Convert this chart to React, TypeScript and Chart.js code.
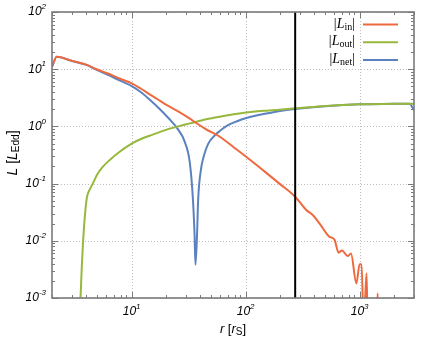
import React, { useEffect, useRef } from "react";
import { Chart, registerables } from "chart.js";
Chart.register(...registerables);

// |L_in|
const rIn = [2.0, 2.2, 3, 4, 4.94, 6.2, 7.9, 10, 12, 14.5, 17, 20, 26, 32.4, 36, 45, 59.3, 80, 105, 150, 198, 272, 340, 388, 444, 542, 601, 655, 700, 785, 840, 936, 1000, 1040, 1085, 1150, 1180, 1400, 1440, 1460];
const lIn = [11, 16.5, 14.0, 12.0, 10.0, 8.4, 6.8, 5.66, 4.6, 3.6, 2.95, 2.4, 1.8, 1.37, 1.18, 0.89, 0.66, 0.42, 0.277, 0.157, 0.1, 0.059, 0.0346, 0.0282, 0.0202, 0.0118, 0.0105, 0.0062, 0.0068, 0.0054, 0.006, 0.0018, 0.0039, 0.0039, 0.0003, 0.0027, 0.0003, 0.0003, 0.0012, 0.0003];

// |L_out|
const rOut = [3.45, 3.56, 3.75, 3.93, 4.06, 4.3, 4.56, 5.0, 5.5, 6.5, 7.7, 10, 12.5, 15.1, 20, 26, 32.4, 45, 59.3, 85, 116, 160, 198, 259, 500, 1000, 2000, 2737, 3000];
const lOut = [0.0001, 0.001, 0.01, 0.035, 0.059, 0.08, 0.1, 0.145, 0.19, 0.265, 0.35, 0.5, 0.62, 0.71, 0.87, 1.01, 1.13, 1.33, 1.48, 1.67, 1.81, 1.9, 1.96, 2.05, 2.28, 2.43, 2.48, 2.5, 2.5];

// |L_net|
const rNet = [2.0, 2.2, 3, 4, 4.94, 6.2, 7.9, 10, 12, 14.5, 17.7, 21, 25.6, 29, 32.4, 34.5, 35.6, 36.3, 37.5, 38.3, 40.9, 42.3, 46.8, 55, 59.3, 70, 83, 105, 133, 162, 200, 259, 500, 1000, 2000, 2737, 3000];
const lNet = [11, 16.5, 13.9, 11.9, 9.7, 8.0, 6.3, 5.08, 4.0, 2.9, 2.0, 1.4, 0.88, 0.56, 0.23, 0.052, 0.0134, 0.0038, 0.0134, 0.052, 0.197, 0.27, 0.49, 0.73, 0.83, 1.05, 1.22, 1.43, 1.6, 1.72, 1.86, 2.0, 2.25, 2.43, 2.48, 2.5, 1.9];

const seriesSubs = ["in", "out", "net"];
const seriesColors = ["#ee6a3e", "#97b83c", "#5b82be"];
const xTickExps = [1, 2, 3];
const yTickExps = [-3, -2, -1, 0, 1, 2];
const xMin = 2, xMax = 3000, yMin = 1e-3, yMax = 1e2;
const rMarker = 272;

type Part = { t: string; font: string; dy?: number };

function drawParts(ctx: CanvasRenderingContext2D, parts: Part[], x: number, y: number, align: "left" | "right" | "center") {
  let total = 0;
  for (const p of parts) { ctx.font = p.font; total += ctx.measureText(p.t).width; }
  let cx = align === "right" ? x - total : align === "center" ? x - total / 2 : x;
  ctx.textAlign = "left";
  for (const p of parts) {
    ctx.font = p.font;
    ctx.fillText(p.t, cx, y + (p.dy || 0));
    cx += ctx.measureText(p.t).width;
  }
}

const SANS = "'Liberation Sans', Arial, sans-serif";
const SERIF = "'Liberation Serif', 'Times New Roman', serif";

const deco = {
  id: "deco",
  beforeDatasetsDraw(chart: any) {
    const { ctx, chartArea: a, scales } = chart;
    const x = scales.x, y = scales.y;
    ctx.save();
    ctx.strokeStyle = "#bdbdbd";
    ctx.lineWidth = 1;
    ctx.setLineDash([1, 2]);
    for (const e of xTickExps) {
      const px = Math.round(x.getPixelForValue(Math.pow(10, e))) + 0.5;
      ctx.beginPath(); ctx.moveTo(px, a.top); ctx.lineTo(px, a.bottom); ctx.stroke();
    }
    for (const e of yTickExps) {
      const py = Math.round(y.getPixelForValue(Math.pow(10, e))) + 0.5;
      ctx.beginPath(); ctx.moveTo(a.left, py); ctx.lineTo(a.right, py); ctx.stroke();
    }
    ctx.restore();
  },
  afterDatasetsDraw(chart: any) {
    const { ctx, chartArea: a, scales } = chart;
    const x = scales.x, y = scales.y;
    ctx.save();
    // vertical marker
    const mx = x.getPixelForValue(rMarker);
    ctx.strokeStyle = "#000";
    ctx.lineWidth = 2;
    ctx.beginPath(); ctx.moveTo(mx, a.top); ctx.lineTo(mx, a.bottom); ctx.stroke();

    // ticks
    ctx.strokeStyle = "#7a7a7a";
    ctx.lineWidth = 1;
    for (let d = 0; d <= 3; d++) {
      for (let m = 1; m <= 9; m++) {
        const v = m * Math.pow(10, d);
        if (v < xMin || v > xMax) continue;
        const px = Math.round(x.getPixelForValue(v)) + 0.5;
        const len = m === 1 ? 6 : 3;
        ctx.beginPath();
        ctx.moveTo(px, a.bottom); ctx.lineTo(px, a.bottom - len);
        ctx.moveTo(px, a.top); ctx.lineTo(px, a.top + len);
        ctx.stroke();
      }
    }
    for (let d = -3; d <= 2; d++) {
      for (let m = 1; m <= 9; m++) {
        const v = m * Math.pow(10, d);
        if (v < yMin || v > yMax * 1.0001) continue;
        const py = Math.round(y.getPixelForValue(v)) + 0.5;
        const len = m === 1 ? 6 : 3;
        ctx.beginPath();
        ctx.moveTo(a.left, py); ctx.lineTo(a.left + len, py);
        ctx.moveTo(a.right, py); ctx.lineTo(a.right - len, py);
        ctx.stroke();
      }
    }
    // frame
    ctx.lineWidth = 1.6;
    ctx.strokeRect(a.left, a.top, a.right - a.left, a.bottom - a.top);

    // tick labels
    ctx.fillStyle = "#000";
    ctx.textBaseline = "middle";
    const big = `italic 12px ${SANS}`;
    const sup = `italic 8px ${SANS}`;
    for (const e of yTickExps) {
      const py = y.getPixelForValue(Math.pow(10, e));
      drawParts(ctx, [{ t: "10", font: big }, { t: String(e), font: sup, dy: -5 }], a.left - 6, py, "right");
    }
    for (const e of xTickExps) {
      const px = x.getPixelForValue(Math.pow(10, e));
      drawParts(ctx, [{ t: "10", font: big }, { t: String(e), font: sup, dy: -5 }], px, a.bottom + 14, "center");
    }

    // axis titles
    const tf = `13px ${SANS}`;
    const ti = `italic 13px ${SANS}`;
    const ts = `10px ${SANS}`;
    drawParts(ctx, [
      { t: "r", font: ti }, { t: " [", font: tf }, { t: "r", font: ti }, { t: "S", font: ts, dy: 3 }, { t: "]", font: tf },
    ], (a.left + a.right) / 2, a.bottom + 31, "center");
    const yf = `14px ${SANS}`;
    const yi = `italic 14px ${SANS}`;
    const ys = `10px ${SANS}`;
    ctx.save();
    ctx.translate(13, (a.top + a.bottom) / 2 - 2);
    ctx.rotate(-Math.PI / 2);
    drawParts(ctx, [
      { t: "L", font: yi }, { t: " [", font: yf }, { t: "L", font: yi }, { t: "Edd", font: ys, dy: 3 }, { t: "]", font: yf },
    ], 0, 0, "center");
    ctx.restore();

    // legend
    const lf = `14px ${SERIF}`;
    const li = `italic 14px ${SERIF}`;
    const ls = `10px ${SERIF}`;
    for (let i = 0; i < seriesSubs.length; i++) {
      const ly = 24 + i * 17.7;
      drawParts(ctx, [
        { t: "|", font: lf }, { t: "L", font: li }, { t: seriesSubs[i], font: ls, dy: 3 }, { t: "|", font: lf },
      ], 355, ly, "right");
      ctx.strokeStyle = seriesColors[i];
      ctx.lineWidth = 2;
      ctx.beginPath(); ctx.moveTo(363, ly + 0.5); ctx.lineTo(398, ly + 0.5); ctx.stroke();
    }
    ctx.restore();
  },
};

function pts(xs: number[], ys: number[]) {
  return xs.map((v, i) => ({ x: v, y: ys[i] }));
}

export default function App() {
  const ref = useRef<HTMLCanvasElement>(null);
  useEffect(() => {
    const canvas = ref.current!;
    const mk = (i: number, xs: number[], ys: number[]) => ({
      label: seriesSubs[i],
      data: pts(xs, ys),
      borderColor: seriesColors[i],
      backgroundColor: seriesColors[i],
      borderWidth: 2,
      pointRadius: 0,
      cubicInterpolationMode: "monotone" as const,
      borderJoinStyle: "round" as const,
      clip: 0,
    });
    const chart = new Chart(canvas, {
      type: "line",
      data: {
        datasets: [mk(0, rIn, lIn), mk(1, rOut, lOut), mk(2, rNet, lNet)],
      },
      plugins: [deco],
      options: {
        animation: false,
        responsive: false,
        devicePixelRatio: 1,
        layout: { padding: { left: 52, right: 22, top: 12, bottom: 51 } },
        plugins: { legend: { display: false }, tooltip: { enabled: false } },
        scales: {
          x: { type: "logarithmic", min: xMin, max: xMax, display: false },
          y: { type: "logarithmic", min: yMin, max: yMax, display: false },
        },
      },
    });
    return () => chart.destroy();
  }, []);
  return (
    <div style={{ position: "fixed", left: 0, top: 0, width: 436, height: 349, background: "#fff" }}>
      <canvas ref={ref} width={436} height={349} style={{ width: 436, height: 349, display: "block" }} />
    </div>
  );
}
